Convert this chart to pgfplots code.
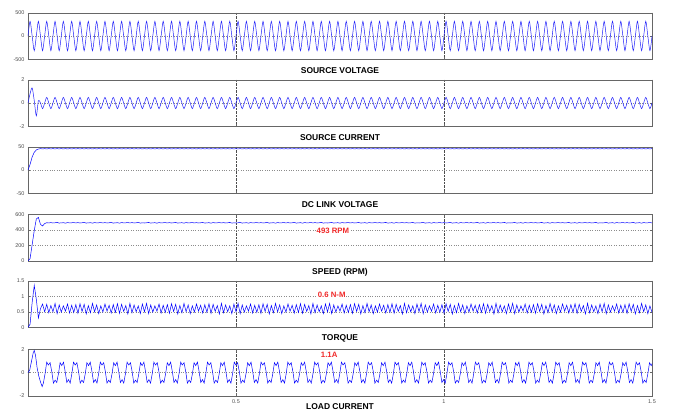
\documentclass[border=0pt]{standalone}
\usepackage{pgfplots}
\pgfplotsset{compat=1.18}
\usepackage{pgfplotstable}
\usepackage{fontspec}
\setmainfont{Liberation Sans}
\definecolor{sig}{RGB}{30,30,250}
\definecolor{lab}{RGB}{240,40,40}

\pgfplotstableread[row sep=\\]{
t v i d s T\\
0 0 0 0 0 0\\ .005 315 .8 12 30 .1\\ .01 0 1.3 28 210 .8\\ .015 -315 .2 38 390 1.35\\
.02 0 -1.1 43 540 .9\\ .025 315 .2 45 560 .3\\ .03 0 0 45.8 470 .6\\ .035 -315 -.48 45.3 450 .75\\
.04 0 0 45.8 480 .5\\ .045 315 .48 45.3 492 .74\\ .05 0 0 45.8 489 .47\\ .055 -315 -.48 45.3 493 .70\\
.06 0 0 45.8 488 .50\\ .065 315 .48 45.3 491 .77\\ .07 0 0 45.8 495 .44\\ .075 -315 -.48 45.3 487 .72\\
.08 0 0 45.8 490 .49\\ .085 315 .48 45.3 492 .69\\ .09 0 0 45.8 486 .52\\ .095 -315 -.48 45.3 494 .75\\
.1 0 0 45.8 489 .46\\ .105 315 .48 45.3 491 .71\\ .11 0 0 45.8 493 .48\\ .115 -315 -.48 45.3 489 .73\\
.12 0 0 45.8 493 .45\\ .125 315 .48 45.3 488 .76\\ .13 0 0 45.8 491 .51\\ .135 -315 -.48 45.3 495 .74\\
.14 0 0 45.8 487 .43\\ .145 315 .48 45.3 490 .70\\ .15 0 0 45.8 492 .47\\ .155 -315 -.48 45.3 486 .77\\
.16 0 0 45.8 494 .50\\ .165 315 .48 45.3 489 .72\\ .17 0 0 45.8 491 .44\\ .175 -315 -.48 45.3 493 .69\\
.18 0 0 45.8 489 .49\\ .185 315 .48 45.3 493 .75\\ .19 0 0 45.8 488 .52\\ .195 -315 -.48 45.3 491 .71\\
.2 0 0 45.8 495 .46\\ .205 315 .48 45.3 487 .73\\ .21 0 0 45.8 490 .48\\ .215 -315 -.48 45.3 492 .76\\
.22 0 0 45.8 486 .45\\ .225 315 .48 45.3 494 .74\\ .23 0 0 45.8 489 .51\\ .235 -315 -.48 45.3 491 .70\\
.24 0 0 45.8 493 .43\\ .245 315 .48 45.3 489 .77\\ .25 0 0 45.8 493 .47\\ .255 -315 -.48 45.3 488 .72\\
.26 0 0 45.8 491 .50\\ .265 315 .48 45.3 495 .69\\ .27 0 0 45.8 487 .44\\ .275 -315 -.48 45.3 490 .75\\
.28 0 0 45.8 488 .50\\ .285 315 .48 45.3 491 .77\\ .29 0 0 45.8 495 .44\\ .295 -315 -.48 45.3 487 .72\\
.3 0 0 45.8 490 .49\\ .305 315 .48 45.3 492 .69\\ .31 0 0 45.8 486 .52\\ .315 -315 -.48 45.3 494 .75\\
.32 0 0 45.8 489 .46\\ .325 315 .48 45.3 491 .71\\ .33 0 0 45.8 493 .48\\ .335 -315 -.48 45.3 489 .73\\
.34 0 0 45.8 493 .45\\ .345 315 .48 45.3 488 .76\\ .35 0 0 45.8 491 .51\\ .355 -315 -.48 45.3 495 .74\\
.36 0 0 45.8 487 .43\\ .365 315 .48 45.3 490 .70\\ .37 0 0 45.8 492 .47\\ .375 -315 -.48 45.3 486 .77\\
.38 0 0 45.8 494 .50\\ .385 315 .48 45.3 489 .72\\ .39 0 0 45.8 491 .44\\ .395 -315 -.48 45.3 493 .69\\
.4 0 0 45.8 489 .49\\ .405 315 .48 45.3 493 .75\\ .41 0 0 45.8 488 .52\\ .415 -315 -.48 45.3 491 .71\\
.42 0 0 45.8 495 .46\\ .425 315 .48 45.3 487 .73\\ .43 0 0 45.8 490 .48\\ .435 -315 -.48 45.3 492 .76\\
.44 0 0 45.8 486 .45\\ .445 315 .48 45.3 494 .74\\ .45 0 0 45.8 489 .51\\ .455 -315 -.48 45.3 491 .70\\
.46 0 0 45.8 493 .43\\ .465 315 .48 45.3 489 .77\\ .47 0 0 45.8 493 .47\\ .475 -315 -.48 45.3 488 .72\\
.48 0 0 45.8 491 .50\\ .485 315 .48 45.3 495 .69\\ .49 0 0 45.8 487 .44\\ .495 -315 -.48 45.3 490 .75\\
.5 0 0 45.8 488 .50\\ .505 315 .48 45.3 491 .77\\ .51 0 0 45.8 495 .44\\ .515 -315 -.48 45.3 487 .72\\
.52 0 0 45.8 490 .49\\ .525 315 .48 45.3 492 .69\\ .53 0 0 45.8 486 .52\\ .535 -315 -.48 45.3 494 .75\\
.54 0 0 45.8 489 .46\\ .545 315 .48 45.3 491 .71\\ .55 0 0 45.8 493 .48\\ .555 -315 -.48 45.3 489 .73\\
.56 0 0 45.8 493 .45\\ .565 315 .48 45.3 488 .76\\ .57 0 0 45.8 491 .51\\ .575 -315 -.48 45.3 495 .74\\
.58 0 0 45.8 487 .43\\ .585 315 .48 45.3 490 .70\\ .59 0 0 45.8 492 .47\\ .595 -315 -.48 45.3 486 .77\\
.6 0 0 45.8 494 .50\\ .605 315 .48 45.3 489 .72\\ .61 0 0 45.8 491 .44\\ .615 -315 -.48 45.3 493 .69\\
.62 0 0 45.8 489 .49\\ .625 315 .48 45.3 493 .75\\ .63 0 0 45.8 488 .52\\ .635 -315 -.48 45.3 491 .71\\
.64 0 0 45.8 495 .46\\ .645 315 .48 45.3 487 .73\\ .65 0 0 45.8 490 .48\\ .655 -315 -.48 45.3 492 .76\\
.66 0 0 45.8 486 .45\\ .665 315 .48 45.3 494 .74\\ .67 0 0 45.8 489 .51\\ .675 -315 -.48 45.3 491 .70\\
.68 0 0 45.8 493 .43\\ .685 315 .48 45.3 489 .77\\ .69 0 0 45.8 493 .47\\ .695 -315 -.48 45.3 488 .72\\
.7 0 0 45.8 491 .50\\ .705 315 .48 45.3 495 .69\\ .71 0 0 45.8 487 .44\\ .715 -315 -.48 45.3 490 .75\\
.72 0 0 45.8 488 .50\\ .725 315 .48 45.3 491 .77\\ .73 0 0 45.8 495 .44\\ .735 -315 -.48 45.3 487 .72\\
.74 0 0 45.8 490 .49\\ .745 315 .48 45.3 492 .69\\ .75 0 0 45.8 486 .52\\ .755 -315 -.48 45.3 494 .75\\
.76 0 0 45.8 489 .46\\ .765 315 .48 45.3 491 .71\\ .77 0 0 45.8 493 .48\\ .775 -315 -.48 45.3 489 .73\\
.78 0 0 45.8 493 .45\\ .785 315 .48 45.3 488 .76\\ .79 0 0 45.8 491 .51\\ .795 -315 -.48 45.3 495 .74\\
.8 0 0 45.8 487 .43\\ .805 315 .48 45.3 490 .70\\ .81 0 0 45.8 492 .47\\ .815 -315 -.48 45.3 486 .77\\
.82 0 0 45.8 494 .50\\ .825 315 .48 45.3 489 .72\\ .83 0 0 45.8 491 .44\\ .835 -315 -.48 45.3 493 .69\\
.84 0 0 45.8 489 .49\\ .845 315 .48 45.3 493 .75\\ .85 0 0 45.8 488 .52\\ .855 -315 -.48 45.3 491 .71\\
.86 0 0 45.8 495 .46\\ .865 315 .48 45.3 487 .73\\ .87 0 0 45.8 490 .48\\ .875 -315 -.48 45.3 492 .76\\
.88 0 0 45.8 486 .45\\ .885 315 .48 45.3 494 .74\\ .89 0 0 45.8 489 .51\\ .895 -315 -.48 45.3 491 .70\\
.9 0 0 45.8 493 .43\\ .905 315 .48 45.3 489 .77\\ .91 0 0 45.8 493 .47\\ .915 -315 -.48 45.3 488 .72\\
.92 0 0 45.8 491 .50\\ .925 315 .48 45.3 495 .69\\ .93 0 0 45.8 487 .44\\ .935 -315 -.48 45.3 490 .75\\
.94 0 0 45.8 488 .50\\ .945 315 .48 45.3 491 .77\\ .95 0 0 45.8 495 .44\\ .955 -315 -.48 45.3 487 .72\\
.96 0 0 45.8 490 .49\\ .965 315 .48 45.3 492 .69\\ .97 0 0 45.8 486 .52\\ .975 -315 -.48 45.3 494 .75\\
.98 0 0 45.8 489 .46\\ .985 315 .48 45.3 491 .71\\ .99 0 0 45.8 493 .48\\ .995 -315 -.48 45.3 489 .73\\
1 0 0 45.8 493 .45\\ 1.005 315 .48 45.3 488 .76\\ 1.01 0 0 45.8 491 .51\\ 1.015 -315 -.48 45.3 495 .74\\
1.02 0 0 45.8 487 .43\\ 1.025 315 .48 45.3 490 .70\\ 1.03 0 0 45.8 492 .47\\ 1.035 -315 -.48 45.3 486 .77\\
1.04 0 0 45.8 494 .50\\ 1.045 315 .48 45.3 489 .72\\ 1.05 0 0 45.8 491 .44\\ 1.055 -315 -.48 45.3 493 .69\\
1.06 0 0 45.8 489 .49\\ 1.065 315 .48 45.3 493 .75\\ 1.07 0 0 45.8 488 .52\\ 1.075 -315 -.48 45.3 491 .71\\
1.08 0 0 45.8 495 .46\\ 1.085 315 .48 45.3 487 .73\\ 1.09 0 0 45.8 490 .48\\ 1.095 -315 -.48 45.3 492 .76\\
1.1 0 0 45.8 486 .45\\ 1.105 315 .48 45.3 494 .74\\ 1.11 0 0 45.8 489 .51\\ 1.115 -315 -.48 45.3 491 .70\\
1.12 0 0 45.8 493 .43\\ 1.125 315 .48 45.3 489 .77\\ 1.13 0 0 45.8 493 .47\\ 1.135 -315 -.48 45.3 488 .72\\
1.14 0 0 45.8 491 .50\\ 1.145 315 .48 45.3 495 .69\\ 1.15 0 0 45.8 487 .44\\ 1.155 -315 -.48 45.3 490 .75\\
1.16 0 0 45.8 488 .50\\ 1.165 315 .48 45.3 491 .77\\ 1.17 0 0 45.8 495 .44\\ 1.175 -315 -.48 45.3 487 .72\\
1.18 0 0 45.8 490 .49\\ 1.185 315 .48 45.3 492 .69\\ 1.19 0 0 45.8 486 .52\\ 1.195 -315 -.48 45.3 494 .75\\
1.2 0 0 45.8 489 .46\\ 1.205 315 .48 45.3 491 .71\\ 1.21 0 0 45.8 493 .48\\ 1.215 -315 -.48 45.3 489 .73\\
1.22 0 0 45.8 493 .45\\ 1.225 315 .48 45.3 488 .76\\ 1.23 0 0 45.8 491 .51\\ 1.235 -315 -.48 45.3 495 .74\\
1.24 0 0 45.8 487 .43\\ 1.245 315 .48 45.3 490 .70\\ 1.25 0 0 45.8 492 .47\\ 1.255 -315 -.48 45.3 486 .77\\
1.26 0 0 45.8 494 .50\\ 1.265 315 .48 45.3 489 .72\\ 1.27 0 0 45.8 491 .44\\ 1.275 -315 -.48 45.3 493 .69\\
1.28 0 0 45.8 489 .49\\ 1.285 315 .48 45.3 493 .75\\ 1.29 0 0 45.8 488 .52\\ 1.295 -315 -.48 45.3 491 .71\\
1.3 0 0 45.8 495 .46\\ 1.305 315 .48 45.3 487 .73\\ 1.31 0 0 45.8 490 .48\\ 1.315 -315 -.48 45.3 492 .76\\
1.32 0 0 45.8 486 .45\\ 1.325 315 .48 45.3 494 .74\\ 1.33 0 0 45.8 489 .51\\ 1.335 -315 -.48 45.3 491 .70\\
1.34 0 0 45.8 493 .43\\ 1.345 315 .48 45.3 489 .77\\ 1.35 0 0 45.8 493 .47\\ 1.355 -315 -.48 45.3 488 .72\\
1.36 0 0 45.8 491 .50\\ 1.365 315 .48 45.3 495 .69\\ 1.37 0 0 45.8 487 .44\\ 1.375 -315 -.48 45.3 490 .75\\
1.38 0 0 45.8 488 .50\\ 1.385 315 .48 45.3 491 .77\\ 1.39 0 0 45.8 495 .44\\ 1.395 -315 -.48 45.3 487 .72\\
1.4 0 0 45.8 490 .49\\ 1.405 315 .48 45.3 492 .69\\ 1.41 0 0 45.8 486 .52\\ 1.415 -315 -.48 45.3 494 .75\\
1.42 0 0 45.8 489 .46\\ 1.425 315 .48 45.3 491 .71\\ 1.43 0 0 45.8 493 .48\\ 1.435 -315 -.48 45.3 489 .73\\
1.44 0 0 45.8 493 .45\\ 1.445 315 .48 45.3 488 .76\\ 1.45 0 0 45.8 491 .51\\ 1.455 -315 -.48 45.3 495 .74\\
1.46 0 0 45.8 487 .43\\ 1.465 315 .48 45.3 490 .70\\ 1.47 0 0 45.8 492 .47\\ 1.475 -315 -.48 45.3 486 .77\\
1.48 0 0 45.8 494 .50\\ 1.485 315 .48 45.3 489 .72\\ 1.49 0 0 45.8 491 .44\\ 1.495 -315 -.48 45.3 493 .69\\
1.5 0 0 45.8 490 .48\\
}\data

\pgfplotsset{panel/.style={
  scale only axis, width=624bp, height=46.6bp, anchor=north west,
  xmin=0, xmax=1.5, xtick={0.5,1,1.5}, xticklabels={},
  axis line style={black!60}, tick style={black!60, line width=0.4pt},
  tick align=inside, major tick length=2.5bp,
  xmajorgrids, ymajorgrids,
  x grid style={densely dotted, black!70},
  y grid style={dotted, black!45},
  ticklabel style={font=\fontsize{5.5}{6.5}\selectfont, text=black!70},
  /pgf/number format/assume math mode=true,
  xlabel style={font=\bfseries\fontsize{8.5}{10}\selectfont, at={(axis description cs:0.5,0)}, anchor=center, yshift=-11bp},
  clip=true, no markers,
  every axis plot/.append style={line width=0.5bp, color=sig},
}}
\tikzset{redlab/.style={text=lab, fill=white, inner sep=0.8bp, font=\bfseries\fontsize{7.8}{9}\selectfont}}

\begin{document}
\begin{tikzpicture}
\useasboundingbox (0,0) rectangle (689bp,-414bp);

\begin{axis}[panel, at={(28bp,-12.7bp)}, ymin=-500, ymax=500, ytick={-500,0,500}, yticklabels={-500,0,500}, xlabel={SOURCE VOLTAGE}]
\addplot[smooth] table[x=t,y=v]{\data};
\end{axis}

\begin{axis}[panel, at={(28bp,-79.7bp)}, ymin=-2, ymax=2, ytick={-2,0,2}, yticklabels={-2,0,2}, xlabel={SOURCE CURRENT}]
\addplot[smooth] table[x=t,y=i]{\data};
\end{axis}

\begin{axis}[panel, at={(28bp,-146.7bp)}, ymin=-50, ymax=50, ytick={-50,0,50}, yticklabels={-50,0,50}, xlabel={DC LINK VOLTAGE}]
\addplot table[x=t,y=d]{\data};
\end{axis}

\begin{axis}[panel, at={(28bp,-214.3bp)}, ymin=0, ymax=600, ytick={0,200,400,600}, yticklabels={0,200,400,600}, xlabel={SPEED (RPM)}]
\addplot table[x=t,y=s]{\data};
\node[redlab] at (axis cs:0.733,385) {493 RPM};
\end{axis}

\begin{axis}[panel, at={(28bp,-280.7bp)}, ymin=0, ymax=1.5, ytick={0,0.5,1,1.5}, yticklabels={0,0.5,1,1.5}, xlabel={TORQUE}]
\addplot table[x=t,y=T]{\data};
\node[redlab] at (axis cs:0.73,1.03) {0.6 N-M};
\end{axis}

\begin{axis}[panel, at={(28bp,-349.3bp)}, ymin=-2, ymax=2, ytick={-2,0,2}, yticklabels={-2,0,2}, xticklabels={0.5,1,1.5}, xlabel={LOAD CURRENT}]
\addplot coordinates {
(0,0)(.004,.2)(.008,.9)(.0125,1.7)(.015,1.9)(.018,1.5)(.022,.4)(.026,-.3)(.03,-.8)(.034,-1.2)(.037,-.9)
(.041,-.1)(.045,.9)(.049,.65)(.0531,.85)(.0571,.1)(.0611,-.9)(.0652,-.65)(.0692,-.85)
(.0732,-.1)(.0772,.85)(.0812,.6)(.0853,.9)(.0893,.1)(.0933,-.85)(.0974,-.6)(.1014,-.9)
(.1054,-.1)(.1094,.9)(.1134,.65)(.1175,.85)(.1215,.1)(.1255,-.9)(.1296,-.65)(.1336,-.85)
(.1376,-.1)(.1416,.85)(.1456,.6)(.1497,.9)(.1537,.1)(.1577,-.85)(.1618,-.6)(.1658,-.9)
(.1698,-.1)(.1738,.9)(.1778,.65)(.1819,.85)(.1859,.1)(.1899,-.9)(.194,-.65)(.198,-.85)
(.202,-.1)(.206,.85)(.21,.6)(.2141,.9)(.2181,.1)(.2221,-.85)(.2262,-.6)(.2302,-.9)
(.2342,-.1)(.2382,.9)(.2422,.65)(.2463,.85)(.2503,.1)(.2543,-.9)(.2584,-.65)(.2624,-.85)
(.2664,-.1)(.2704,.85)(.2744,.6)(.2785,.9)(.2825,.1)(.2865,-.85)(.2906,-.6)(.2946,-.9)
(.2986,-.1)(.3026,.9)(.3066,.65)(.3107,.85)(.3147,.1)(.3187,-.9)(.3228,-.65)(.3268,-.85)
(.3308,-.1)(.3348,.85)(.3388,.6)(.3429,.9)(.3469,.1)(.3509,-.85)(.355,-.6)(.359,-.9)
(.363,-.1)(.367,.9)(.371,.65)(.3751,.85)(.3791,.1)(.3831,-.9)(.3872,-.65)(.3912,-.85)
(.3952,-.1)(.3992,.85)(.4032,.6)(.4073,.9)(.4113,.1)(.4153,-.85)(.4194,-.6)(.4234,-.9)
(.4274,-.1)(.4314,.9)(.4354,.65)(.4395,.85)(.4435,.1)(.4475,-.9)(.4516,-.65)(.4556,-.85)
(.4596,-.1)(.4636,.85)(.4676,.6)(.4717,.9)(.4757,.1)(.4797,-.85)(.4838,-.6)(.4878,-.9)
(.4918,-.1)(.4958,.9)(.4998,.65)(.5039,.85)(.5079,.1)(.5119,-.9)(.516,-.65)(.52,-.85)
(.524,-.1)(.528,.85)(.532,.6)(.5361,.9)(.5401,.1)(.5441,-.85)(.5482,-.6)(.5522,-.9)
(.5562,-.1)(.5602,.9)(.5642,.65)(.5683,.85)(.5723,.1)(.5763,-.9)(.5804,-.65)(.5844,-.85)
(.5884,-.1)(.5924,.85)(.5964,.6)(.6005,.9)(.6045,.1)(.6085,-.85)(.6126,-.6)(.6166,-.9)
(.6206,-.1)(.6246,.9)(.6286,.65)(.6327,.85)(.6367,.1)(.6407,-.9)(.6448,-.65)(.6488,-.85)
(.6528,-.1)(.6568,.85)(.6608,.6)(.6649,.9)(.6689,.1)(.6729,-.85)(.677,-.6)(.681,-.9)
(.685,-.1)(.689,.9)(.693,.65)(.6971,.85)(.7011,.1)(.7051,-.9)(.7092,-.65)(.7132,-.85)
(.7172,-.1)(.7212,.85)(.7252,.6)(.7293,.9)(.7333,.1)(.7373,-.85)(.7414,-.6)(.7454,-.9)
(.7494,-.1)(.7534,.9)(.7574,.65)(.7615,.85)(.7655,.1)(.7695,-.9)(.7736,-.65)(.7776,-.85)
(.7816,-.1)(.7856,.85)(.7896,.6)(.7937,.9)(.7977,.1)(.8017,-.85)(.8058,-.6)(.8098,-.9)
(.8138,-.1)(.8178,.9)(.8218,.65)(.8259,.85)(.8299,.1)(.8339,-.9)(.838,-.65)(.842,-.85)
(.846,-.1)(.85,.85)(.854,.6)(.8581,.9)(.8621,.1)(.8661,-.85)(.8702,-.6)(.8742,-.9)
(.8782,-.1)(.8822,.9)(.8862,.65)(.8903,.85)(.8943,.1)(.8983,-.9)(.9024,-.65)(.9064,-.85)
(.9104,-.1)(.9144,.85)(.9184,.6)(.9225,.9)(.9265,.1)(.9305,-.85)(.9346,-.6)(.9386,-.9)
(.9426,-.1)(.9466,.9)(.9506,.65)(.9547,.85)(.9587,.1)(.9627,-.9)(.9668,-.65)(.9708,-.85)
(.9748,-.1)(.9788,.85)(.9828,.6)(.9869,.9)(.9909,.1)(.9949,-.85)(.999,-.6)(1.003,-.9)
(1.007,-.1)(1.011,.9)(1.015,.65)(1.0191,.85)(1.0231,.1)(1.0271,-.9)(1.0312,-.65)(1.0352,-.85)
(1.0392,-.1)(1.0432,.85)(1.0472,.6)(1.0513,.9)(1.0553,.1)(1.0593,-.85)(1.0634,-.6)(1.0674,-.9)
(1.0714,-.1)(1.0754,.9)(1.0794,.65)(1.0835,.85)(1.0875,.1)(1.0915,-.9)(1.0956,-.65)(1.0996,-.85)
(1.1036,-.1)(1.1076,.85)(1.1116,.6)(1.1157,.9)(1.1197,.1)(1.1237,-.85)(1.1278,-.6)(1.1318,-.9)
(1.1358,-.1)(1.1398,.9)(1.1438,.65)(1.1479,.85)(1.1519,.1)(1.1559,-.9)(1.16,-.65)(1.164,-.85)
(1.168,-.1)(1.172,.85)(1.176,.6)(1.1801,.9)(1.1841,.1)(1.1881,-.85)(1.1922,-.6)(1.1962,-.9)
(1.2002,-.1)(1.2042,.9)(1.2082,.65)(1.2123,.85)(1.2163,.1)(1.2203,-.9)(1.2244,-.65)(1.2284,-.85)
(1.2324,-.1)(1.2364,.85)(1.2404,.6)(1.2445,.9)(1.2485,.1)(1.2525,-.85)(1.2566,-.6)(1.2606,-.9)
(1.2646,-.1)(1.2686,.9)(1.2726,.65)(1.2767,.85)(1.2807,.1)(1.2847,-.9)(1.2888,-.65)(1.2928,-.85)
(1.2968,-.1)(1.3008,.85)(1.3048,.6)(1.3089,.9)(1.3129,.1)(1.3169,-.85)(1.321,-.6)(1.325,-.9)
(1.329,-.1)(1.333,.9)(1.337,.65)(1.3411,.85)(1.3451,.1)(1.3491,-.9)(1.3532,-.65)(1.3572,-.85)
(1.3612,-.1)(1.3652,.85)(1.3692,.6)(1.3733,.9)(1.3773,.1)(1.3813,-.85)(1.3854,-.6)(1.3894,-.9)
(1.3934,-.1)(1.3974,.9)(1.4014,.65)(1.4055,.85)(1.4095,.1)(1.4135,-.9)(1.4176,-.65)(1.4216,-.85)
(1.4256,-.1)(1.4296,.85)(1.4336,.6)(1.4377,.9)(1.4417,.1)(1.4457,-.85)(1.4498,-.6)(1.4538,-.9)
(1.4578,-.1)(1.4618,.9)(1.4658,.65)(1.4699,.85)(1.4739,.1)(1.4779,-.9)(1.482,-.65)(1.486,-.85)
(1.49,-.1)(1.494,.85)(1.498,.6)(1.5021,.9)(1.5061,.1)
};
\node[redlab] at (axis cs:0.724,1.5) {1.1A};
\end{axis}
\end{tikzpicture}
\end{document}
